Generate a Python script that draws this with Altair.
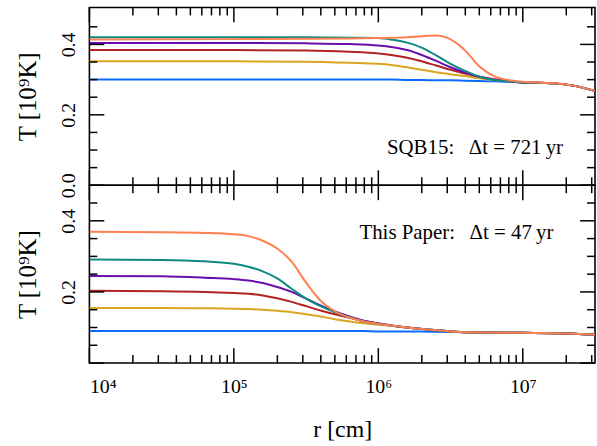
import altair as alt
import pandas as pd

# ---------------- data ----------------
series = ["blue", "gold", "red", "purple", "teal", "orange"]
colors = ["#0a6cff", "#daa520", "#b22222", "#6a0dad", "#0f8a80", "#ff7f50"]

# top panel: SQB15  (log10 r grid)
top_logr = [4.0, 5.0, 5.5, 5.8, 6.0, 6.1, 6.2, 6.3, 6.4, 6.5, 6.6, 6.7, 6.8, 6.9, 7.0, 7.2, 7.35, 7.5]
top_blue = [0.300, 0.300, 0.300, 0.300, 0.300, 0.300, 0.299, 0.299, 0.298, 0.298, 0.297, 0.296, 0.295, 0.294, 0.292, 0.290, 0.283, 0.268]
top_gold = [0.352, 0.352, 0.351, 0.348, 0.345, 0.341, 0.335, 0.328, 0.321, 0.315, 0.310, 0.304, 0.299, 0.295, 0.292, 0.290, 0.283, 0.268]
top_red = [0.384, 0.384, 0.383, 0.379, 0.374, 0.369, 0.362, 0.352, 0.340, 0.328, 0.317, 0.308, 0.301, 0.296, 0.292, 0.290, 0.283, 0.268]
top_purple = [0.404, 0.404, 0.403, 0.401, 0.397, 0.392, 0.384, 0.370, 0.353, 0.335, 0.320, 0.308, 0.300, 0.295, 0.292, 0.290, 0.283, 0.268]
top_teal = [0.420, 0.420, 0.420, 0.419, 0.418, 0.413, 0.405, 0.391, 0.369, 0.345, 0.325, 0.308, 0.299, 0.295, 0.292, 0.290, 0.283, 0.268]
top_orange = [0.414, 0.415, 0.416, 0.417, 0.418, 0.419, 0.420, 0.423, 0.425, 0.414, 0.383, 0.337, 0.310, 0.299, 0.294, 0.290, 0.283, 0.268]

# bottom panel: This Paper
bot_logr = [4.0, 4.5, 4.8, 5.0, 5.1, 5.2, 5.3, 5.4, 5.5, 5.6, 5.7, 5.8, 5.9, 6.0, 6.1, 6.2, 6.35, 6.5, 6.7, 7.0, 7.25, 7.5]
bot_blue = [0.090, 0.090, 0.090, 0.090, 0.090, 0.090, 0.090, 0.090, 0.090, 0.090, 0.090, 0.090, 0.090, 0.089, 0.089, 0.089, 0.088, 0.087, 0.086, 0.085, 0.084, 0.080]
bot_gold = [0.155, 0.155, 0.154, 0.153, 0.152, 0.150, 0.147, 0.143, 0.137, 0.131, 0.123, 0.117, 0.112, 0.108, 0.104, 0.100, 0.094, 0.089, 0.086, 0.085, 0.084, 0.080]
bot_red = [0.203, 0.202, 0.200, 0.197, 0.195, 0.190, 0.182, 0.172, 0.160, 0.148, 0.137, 0.127, 0.118, 0.111, 0.105, 0.100, 0.094, 0.089, 0.086, 0.085, 0.084, 0.080]
bot_purple = [0.245, 0.244, 0.240, 0.236, 0.232, 0.225, 0.214, 0.200, 0.181, 0.162, 0.145, 0.131, 0.119, 0.111, 0.105, 0.100, 0.094, 0.089, 0.086, 0.085, 0.084, 0.080]
bot_teal = [0.291, 0.290, 0.286, 0.279, 0.271, 0.258, 0.238, 0.209, 0.181, 0.160, 0.143, 0.129, 0.117, 0.110, 0.105, 0.100, 0.094, 0.089, 0.086, 0.085, 0.084, 0.080]
bot_orange = [0.369, 0.368, 0.366, 0.362, 0.357, 0.344, 0.322, 0.285, 0.226, 0.175, 0.145, 0.128, 0.117, 0.110, 0.105, 0.100, 0.094, 0.089, 0.086, 0.085, 0.084, 0.080]

# axis ticks and labels
x_major = [1e4, 1e5, 1e6, 1e7]
x_labels = ["10⁴", "10⁵", "10⁶", "10⁷"]
x_minor = [k * 10 ** d for d in (4, 5, 6, 7) for k in range(2, 10) if k * 10 ** d <= 10 ** 7.5]
y_major = [0.0, 0.2, 0.4]
y_minor = [0.05, 0.10, 0.15, 0.25, 0.30, 0.35, 0.45]
top_ylabels = [0.0, 0.2, 0.4]
bot_ylabels = [0.2, 0.4]

notes_top = pd.DataFrame({"r": [1.9e7], "T": [0.106], "label": ["SQB15:\u2002\u2009Δt = 721\u2009yr"]})
notes_bot = pd.DataFrame({"r": [1.63e7], "T": [0.366], "label": ["This Paper:\u2002\u2009Δt = 47\u2009yr"]})

FONT = "Liberation Serif"
W, H = 509, 179
XDOM = [1e4, 10 ** 7.5]
MAJ, MIN = 15, 8

label_expr = "[" + ",".join("'%s'" % s for s in x_labels) + "][round(log(datum.value)/LN10) - 4]"


def long_df(logr, cols):
    rows = []
    for name, vals in zip(series, cols):
        for e, v in zip(logr, vals):
            rows.append({"r": 10 ** e, "T": v, "s": name})
    return pd.DataFrame(rows)


top_df = long_df(top_logr, [top_blue, top_gold, top_red, top_purple, top_teal, top_orange])
bot_df = long_df(bot_logr, [bot_blue, bot_gold, bot_red, bot_purple, bot_teal, bot_orange])


def panel(df, ydom, ylabels, show_x, notes):
    xs = alt.Scale(type="log", domain=XDOM, nice=False)
    ys = alt.Scale(domain=ydom, nice=False, zero=False)
    if show_x:
        xaxis = alt.Axis(
            values=x_major,
            labelExpr=label_expr,
            ticks=False, tickSize=0, domain=False, grid=False,
            labelFontSize=20, labelBaseline="alphabetic", labelPadding=30,
            labelColor="black", labelFont=FONT,
            title="r [cm]", titleFontSize=24, titleFontWeight="normal",
            titleFont=FONT, titleColor="black",
            titleBaseline="alphabetic", titleY=74,
        )
    else:
        xaxis = None
    yaxis = alt.Axis(
        values=ylabels, format=".1f", ticks=False, tickSize=0, domain=False, grid=False,
        labelAngle=270, labelAlign="center", labelBaseline="alphabetic", labelPadding=15,
        labelFontSize=20, labelColor="black", labelFont=FONT,
        title="T [10⁹K]", titleFontSize=25, titleFontWeight="normal", titleFont=FONT,
        titleColor="black", titleAngle=270, titleBaseline="alphabetic", titleX=-54,
        titleAlign="center",
    )
    X = alt.X("r:Q", scale=xs, axis=xaxis)
    Y = alt.Y("T:Q", scale=ys, axis=yaxis)

    lines = alt.Chart(df).mark_line(strokeWidth=2, clip=True, interpolate="monotone").encode(
        x=X, y=Y,
        color=alt.Color("s:N", scale=alt.Scale(domain=series, range=colors), legend=None),
    )

    layers = [lines]
    rule = dict(color="black", strokeWidth=1.5)
    for vals, L in ((x_major, MAJ), (x_minor, MIN)):
        d = pd.DataFrame({"r": vals})
        layers.append(alt.Chart(d).mark_rule(**rule).encode(x=X, y=alt.value(H), y2=alt.value(H - L)))
        layers.append(alt.Chart(d).mark_rule(**rule).encode(x=X, y=alt.value(0), y2=alt.value(L)))
    for vals, L in ((y_major, MAJ), (y_minor, MIN)):
        d = pd.DataFrame({"T": vals})
        layers.append(alt.Chart(d).mark_rule(**rule).encode(y=Y, x=alt.value(0), x2=alt.value(L)))
        layers.append(alt.Chart(d).mark_rule(**rule).encode(y=Y, x=alt.value(W), x2=alt.value(W - L)))

    text = alt.Chart(notes).mark_text(
        align="right", baseline="middle", font=FONT, fontSize=21, color="black"
    ).encode(x=X, y=Y, text="label:N")
    layers.append(text)

    return alt.layer(*layers).properties(width=W, height=H)


top = panel(top_df, [0, 0.505], top_ylabels, False, notes_top)
bot = panel(bot_df, [0, 0.5], bot_ylabels, True, notes_bot)

chart = (
    alt.vconcat(top, bot, spacing=0, bounds="flush")
    .properties(padding={"left": 15, "top": 4, "right": 0, "bottom": 0})
    .configure(font=FONT, background="white")
    .configure_view(stroke="black", strokeWidth=1.6)
)

chart.save("out.html", embed_options={"renderer": "svg", "actions": False})
